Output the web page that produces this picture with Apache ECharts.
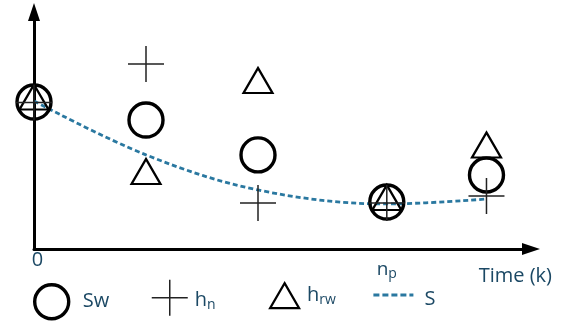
<!DOCTYPE html>
<html><head><meta charset="utf-8">
<script src="https://cdn.jsdelivr.net/npm/echarts@6/dist/echarts.min.js"></script>
<style>html,body{margin:0;padding:0;background:#fff}#c{width:564px;height:324px}</style>
</head><body><div id="c"></div>
<script>
// ---- data ----
const timeSteps = [0, 1, 2, 3.15, 4.04];
const swValues  = [6.20, 5.44, 3.97, 1.98, 3.12];
const hnValues  = [6.18, 7.81, 1.94, 1.94, 2.24];
const hrwValues = [6.41, 3.27, 7.11, 2.17, 4.39];
const sValues   = [6.24, 3.97, 2.49, 1.90, 2.11];
const xTickValues = [0, 3.15];
const xTickLabels = ['0', 'n_p'];
const seriesNames = ['Sw', 'h_n', 'h_rw', 'S'];
const xMax = 4.4375, yMax = 10;

const FONT = 'Open Sans';
const TXT = '#1b4864';
const LINE = '#2a78a0';

function pairs(xs, ys) { return xs.map((x, i) => [x, ys[i]]); }
function richSub(label, base, sub) {
  const parts = label.split('_');
  return parts.length > 1 ? '{' + base + '|' + parts[0] + '}{' + sub + '|' + parts[1] + '}' : '{' + base + '|' + parts[0] + '}';
}
const legendRich = {
  m: { fontFamily: FONT, fontSize: 20, lineHeight: 22, color: TXT },
  s: { fontFamily: FONT, fontSize: 14, lineHeight: 14, verticalAlign: 'bottom', color: TXT }
};
function legendText(pad) {
  return { fontFamily: FONT, fontSize: 20, color: TXT, padding: pad, rich: legendRich };
}

const chart = echarts.init(document.getElementById('c'), null, { renderer: 'canvas' });
chart.setOption({
  animation: false,
  backgroundColor: '#fff',
  grid: { left: 34, right: 33, top: 12, bottom: 75 },
  xAxis: {
    type: 'value', min: 0, max: xMax,
    splitLine: { show: false }, axisTick: { show: false },
    axisLine: { lineStyle: { color: '#000', width: 3 }, symbol: ['none', 'triangle'], symbolSize: [12, 18] },
    axisLabel: {
      customValues: xTickValues, margin: 1,
      formatter: function (v) {
        const i = xTickValues.indexOf(v);
        const lab = i >= 0 ? xTickLabels[i] : '';
        return lab.indexOf('_') >= 0 ? richSub(lab, 'n', 'p') : '{z|' + lab + '}';
      },
      rich: {
        z: { fontFamily: FONT, fontSize: 20, lineHeight: 20, color: TXT, padding: [0, 0, 0, 7] },
        n: { fontFamily: FONT, fontSize: 19, lineHeight: 40, color: TXT },
        p: { fontFamily: FONT, fontSize: 14, color: TXT, padding: [8, 0, 0, 0] }
      }
    },
    name: 'Time (k)', nameLocation: 'end', nameGap: 21,
    nameTextStyle: { fontFamily: FONT, fontSize: 20, color: TXT, align: 'right', verticalAlign: 'top', lineHeight: 20, padding: [17, 0, 0, 0] }
  },
  yAxis: {
    type: 'value', min: 0, max: yMax,
    splitLine: { show: false }, axisTick: { show: false }, axisLabel: { show: false },
    axisLine: { lineStyle: { color: '#000', width: 3 }, symbol: ['none', 'triangle'], symbolSize: [12, 18] }
  },
  legend: [
    { data: [seriesNames[0]], left: 33, top: 283, padding: 0, itemWidth: 34, itemHeight: 34,
      itemStyle: { borderWidth: 3.4 }, formatter: n => richSub(n, 'm', 's'), textStyle: legendText([0, 0, 0, 9]) },
    { data: [seriesNames[1]], left: 151, top: 279, padding: 0, itemWidth: 36, itemHeight: 36,
      itemStyle: { borderWidth: 1.5 }, formatter: n => richSub(n, 'm', 's'), textStyle: legendText([6, 0, 0, 2]) },
    { data: [seriesNames[2]], left: 269, top: 282, padding: 0, itemWidth: 29, itemHeight: 25,
      itemStyle: { borderWidth: 2.2 }, formatter: n => richSub(n, 'm', 's'), textStyle: legendText([0, 0, 0, 3]) },
    { data: [seriesNames[3]], left: 372, top: 289, padding: 0, itemWidth: 40, itemHeight: 14,
      itemStyle: { opacity: 0, borderWidth: 0 },
      lineStyle: { width: 2.8, color: LINE, type: [6, 3], opacity: 1 }, formatter: n => richSub(n, 'm', 's'), textStyle: legendText([8, 0, 0, 6]) }
  ],
  series: [
    { name: seriesNames[3], type: 'line', z: 1, data: pairs(timeSteps, sValues), smooth: 0.35,
      symbol: 'none', showSymbol: false, itemStyle: { color: LINE },
      lineStyle: { color: LINE, width: 2.8, type: [5, 3] } },
    { name: seriesNames[0], type: 'scatter', z: 2, data: pairs(timeSteps, swValues), symbol: 'circle', symbolSize: 34,
      itemStyle: { color: 'transparent', borderColor: '#000', borderWidth: 3.4, opacity: 1 } },
    { name: seriesNames[2], type: 'scatter', z: 3, data: pairs(timeSteps, hrwValues), symbol: 'triangle', symbolSize: [29, 25],
      itemStyle: { color: 'transparent', borderColor: '#000', borderWidth: 2.2, opacity: 1 } },
    { name: seriesNames[1], type: 'scatter', z: 4, data: pairs(timeSteps, hnValues), symbol: 'path://M18,0V36M0,18H36', symbolSize: 36,
      itemStyle: { color: 'transparent', borderColor: '#222', borderWidth: 1.5, opacity: 1 } }
  ]
});
</script></body></html>
